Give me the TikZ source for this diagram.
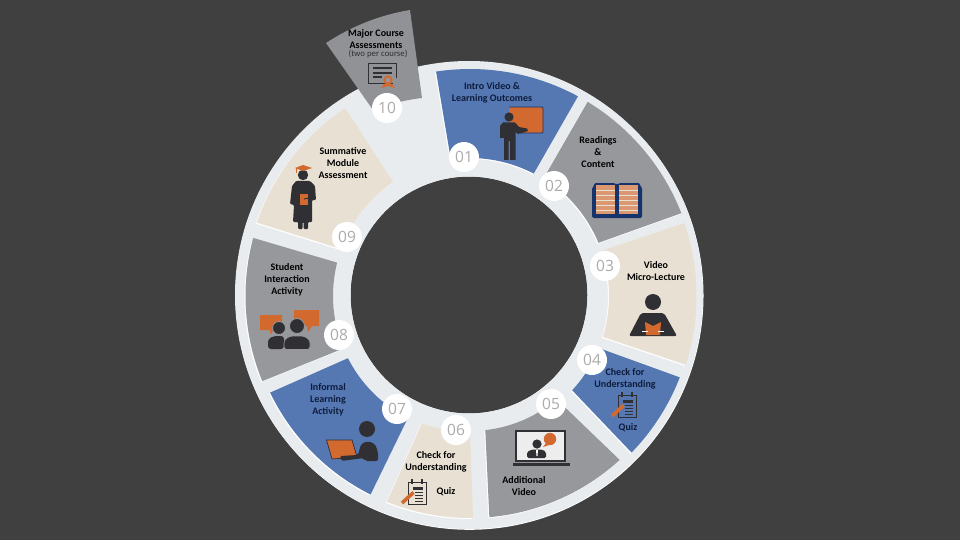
\documentclass[tikz,border=0pt]{standalone}
\usepackage{fontspec}
\setmainfont{Carlito}
\newfontfamily\numfont{Open Sans}
\definecolor{bgc}{HTML}{404040}
\definecolor{ringc}{HTML}{E8ECEF}
\definecolor{blueseg}{HTML}{5578B3}
\definecolor{grayseg}{HTML}{97989C}
\definecolor{beigeseg}{HTML}{E8E0D2}
\definecolor{orangec}{HTML}{D2692F}
\definecolor{darkc}{HTML}{303034}
\definecolor{navyc}{HTML}{17336B}
\definecolor{numc}{HTML}{ABABAB}
\definecolor{navytxt}{HTML}{0E1C3C}
\tikzset{
  x=1pt,y=-1pt,
  numdot/.style={circle,fill=white,minimum size=30pt,inner sep=0pt,text=numc,font=\numfont\fontsize{15.5}{15.5}\selectfont},
  lab/.style={align=center,inner sep=0pt,font=\fontsize{10}{12.2}\selectfont\bfseries,text=black},
  labn/.style={lab,text=navytxt},
  ico/.style={fill=darkc,draw=none},
  org/.style={fill=orangec,draw=none},
}
% #1,#2 outer angles, #3 outer radius, #4,#5 inner angles, #6 inner radius, #7 colour
\newcommand{\segshape}[7]{%
  \path[fill=white,shift={(-1,1)}] plot[domain=#1:#2,samples=30] ({470+#3*cos(\x)},{296-#3*sin(\x)}) -- plot[domain=#4:#5,samples=30] ({470+#6*cos(\x)},{296-#6*sin(\x)}) -- cycle;
  \path[fill=#7] plot[domain=#1:#2,samples=30] ({470+#3*cos(\x)},{296-#3*sin(\x)}) -- plot[domain=#4:#5,samples=30] ({470+#6*cos(\x)},{296-#6*sin(\x)}) -- cycle;
}
\newcommand{\quizicon}[2]{%
  \begin{scope}[shift={(#1,#2)}]
    \draw[darkc,line width=.9pt,fill=none] (0,0) rectangle (18,22);
    \draw[darkc,line width=1.1pt] (4,-3) -- (4,2) (14,-3) -- (14,2);
    \fill[darkc] (5,5) rectangle (15,7.5);
    \draw[darkc,line width=.9pt] (7,10) -- (15,10) (7,13) -- (15,13) (7,16) -- (15,16) (7,19) -- (15,19);
    \draw[orangec,line width=3.6pt] (-6,21) -- (5.5,10.5);
  \end{scope}
}
\begin{document}
\begin{tikzpicture}
\useasboundingbox (0,0) rectangle (960,540);
\fill[bgc] (0,0) rectangle (960,540);
% ring
\fill[white,even odd rule] (469.5,295.8) circle [radius=234] (469,295) circle [radius=118.5];
\fill[ringc,even odd rule] (469,295) circle [radius=234] (469,295) circle [radius=118.5];
% segments
\segshape{98.6}{61.6}{227}{62.5}{98}{138}{blueseg}
\segshape{58.8}{21.4}{227}{22.5}{58}{139}{grayseg}
\segshape{18.8}{-17.7}{226.5}{-17.1}{19}{139}{beigeseg}
\segshape{-21.2}{-44.1}{225}{-42.7}{-22}{139}{blueseg}
\segshape{-47.6}{-85}{222}{-83.5}{-50}{135}{grayseg}
\segshape{-89.2}{-112}{222}{-110.7}{-90}{136}{beigeseg}
\segshape{-116.6}{-154.2}{222}{-153}{-117}{137}{blueseg}
\segshape{-157.7}{-195}{224.5}{-194.1}{-157.5}{137}{grayseg}
\segshape{161}{123.6}{225.5}{124}{160}{137.5}{beigeseg}
% wedge 10
\fill[grayseg!96!black] (326,43) .. controls (352,26) and (380,15) .. (410,10) -- (422,98) .. controls (405,100) and (389,104) .. (373,110) -- cycle;
% icon 01
\fill[orangec] (509,107) rectangle (543,133);
\draw[navyc,line width=.8pt,rounded corners=1pt] (509,107) -- (543,107) -- (543,133) -- (520,133);
\fill[ico] (509,117) circle [radius=4.6];
\fill[ico] (500,126) -- (503,122.5) -- (515,122.5) -- (519,127) -- (527,128.5) -- (528,131) -- (518,134) -- (515.5,132) -- (515.5,160) -- (510,160) -- (510,141) -- (508.5,141) -- (508.5,160) -- (504,160) -- (504,138) -- (500,138) -- cycle;
% icon 02 book
\fill[navyc,rounded corners=1.5pt] (592,187) -- (594,187) -- (594,183) -- (615,183) -- (617,185) -- (619,183) -- (640,183) -- (640,187) -- (642,187) -- (642,218) -- (592,218) -- cycle;
\fill[orangec!60!beigeseg] (596,185) rectangle (615,214);
\fill[orangec!60!beigeseg] (619,185) rectangle (638,214);
\foreach \yy in {190,195,200,205,210}{
  \draw[beigeseg,line width=.7pt] (596,\yy) -- (615,\yy);
  \draw[beigeseg,line width=.7pt] (619,\yy) -- (638,\yy);
}
% icon 03
\fill[ico] (653,302) circle [radius=8];
\fill[ico,rounded corners=2pt] (641,313) -- (664,313) -- (677,336) -- (629,336) -- cycle;
\fill[org] (645,322) -- (653,326) -- (661,322) -- (660,335) -- (646,335) -- cycle;
\draw[white,line width=.4pt] (642,331) -- (648,331) (658,331) -- (664,331);
% icon 05 laptop
\fill[darkc] (515,430) rectangle (566,462);
\fill[white!93!black] (517,432) rectangle (564,460);
\fill[darkc] (513,463) rectangle (570,466);
\fill[ico] (537,444) circle [radius=4.6];
\fill[ico,rounded corners=1.5pt] (527,458) -- (527,452) -- (532,449.5) -- (542,449.5) -- (546,452) -- (546,458) -- cycle;
\fill[white] (536,450) -- (538,450) -- (537.5,456) -- (536.5,456) -- cycle;
\fill[org] (550,439) circle [radius=6.2];
\fill[org] (546,443) -- (543,447) -- (549,445) -- cycle;
% icon 07
\fill[ico] (367,429) circle [radius=8];
\fill[org] (326.5,440) -- (352,440) -- (357,457) -- (332,459) -- cycle;
\draw[darkc,line width=.7pt] (326.5,440) -- (352,440) -- (357,457) -- (332,459) -- cycle;
\fill[ico,rounded corners=2pt] (340,456) -- (358,455) -- (361,444) -- (368,441) -- (375,444) -- (378,452) -- (378,461) -- (365,461) -- (364,458) -- (341,461) -- cycle;
% icon 08
\fill[org] (260,315) -- (282,315) -- (282,330) -- (274,330) -- (270,334) -- (270,330) -- (260,330) -- cycle;
\fill[org] (294,310) -- (319,310) -- (319,326) -- (312,326) -- (308,332) -- (307,326) -- (294,326) -- cycle;
\fill[ico,draw=grayseg,line width=.8pt] (279,328) circle [radius=6.5];
\fill[ico,draw=grayseg,line width=.8pt] (297,326) circle [radius=7.5];
\fill[ico,rounded corners=3pt] (268,349) -- (268,339) -- (274,336) -- (284,336) -- (284,349) -- cycle;
\fill[ico,draw=grayseg,line width=.6pt,rounded corners=3pt] (284,349.5) -- (284,340) -- (290,336) -- (304,336) -- (310,340) -- (310,349.5) -- cycle;
% icon 09
\fill[ico] (303,175) circle [radius=5.2];
\fill[ico,rounded corners=1pt] (296,181) -- (310,181) -- (315,186) -- (316,200) -- (312,200) -- (312,222) -- (308,222) -- (308,229) -- (303.5,229) -- (303.5,222) -- (302.5,222) -- (302.5,229) -- (298,229) -- (298,222) -- (293,222) -- (294,205) -- (290,204) -- (292,186) -- cycle;
\fill[org] (295,168) -- (303,165) -- (312,168) -- (303,171) -- cycle;
\draw[orangec,line width=.7pt] (296,168) -- (296,173);
\fill[org] (300,194) rectangle (308,205);
\draw[darkc,line width=.9pt] (304,199) -- (314,197);
% icon 10 certificate
\draw[darkc,line width=1pt] (393,84) -- (368.5,84) -- (368.5,63.5) -- (396,63.5) -- (396,78);
\fill[darkc] (373,67) rectangle (392,69.5);
\fill[darkc] (373,72) rectangle (392,74);
\fill[darkc] (373,76.5) rectangle (382,78);
\fill[org] (384,84) -- (381,88) -- (388,86) -- (395,88) -- (392,84) -- cycle;
\fill[org] (388,80) circle [radius=4.6];
\fill[grayseg] (388,80) circle [radius=2.3];
% quiz icons
\quizicon{618}{395}
\quizicon{408}{482}
% number discs
\node[numdot] (n01) at (464,157) {01};
\node[numdot] (n02) at (554,186) {02};
\node[numdot] (n03) at (605,266) {03};
\node[numdot] (n04) at (592,360) {04};
\node[numdot] (n05) at (551,404) {05};
\node[numdot] (n06) at (456,430) {06};
\node[numdot] (n07) at (397,409) {07};
\node[numdot] (n08) at (339,335) {08};
\node[numdot] (n09) at (347,237) {09};
\node[numdot] (n10) at (387,108) {10};
% labels
\node[labn] (t01) at (492,92.5) {Intro Video \&\\Learning Outcomes};
\node[lab] (t02) at (598,152) {Readings\\\&\\Content};
\node[lab] (t03) at (656,271) {Video\\Micro-Lecture};
\node[labn] (t04) at (625,379) {Check for\\Understanding};
\node[labn] (t04q) at (628,428) {Quiz};
\node[lab] (t05) at (524,486) {Additional\\Video};
\node[lab] (t06) at (436,462) {Check for\\Understanding};
\node[lab] (t06q) at (446,492) {Quiz};
\node[labn] (t07) at (328,400) {Informal\\Learning\\Activity};
\node[lab] (t08) at (287,280) {Student\\Interaction\\Activity};
\node[lab] (t09) at (343,163) {Summative\\Module\\Assessment};
\node[lab] (t10) at (376,39) {Major Course\\Assessments};
\node[lab,font=\fontsize{8.8}{10}\selectfont,text=darkc] (t10b) at (378,54) {(two per course)};
\end{tikzpicture}
\end{document}
